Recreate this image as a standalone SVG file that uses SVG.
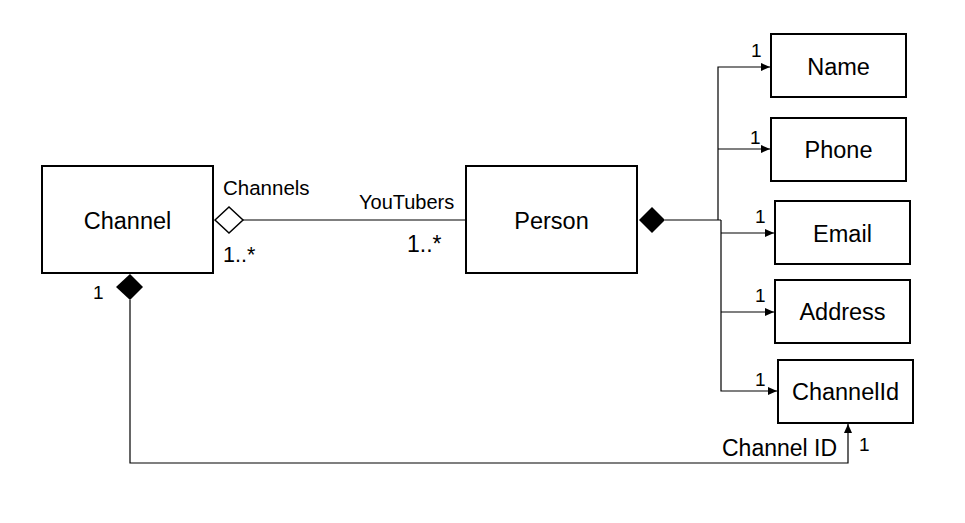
<svg xmlns="http://www.w3.org/2000/svg" width="965" height="523" viewBox="0 0 965 523">
<style>
.box{fill:#fff;stroke:#000;stroke-width:2}
.t{font-family:"Liberation Sans",Arial,sans-serif;fill:#000}
.bt{font-size:23.5px;text-anchor:middle}
.one{font-size:19px}
.ln{fill:none;stroke:#000;stroke-width:1.2}
</style>
<defs>
<marker id="arr" markerWidth="10" markerHeight="8" refX="9" refY="4" orient="auto" markerUnits="userSpaceOnUse">
<path d="M0,0 L9,4 L0,8 Z" fill="#000"/>
</marker>
</defs>
<rect width="965" height="523" fill="#fff"/>
<g id="connectors">
<path class="ln" d="M243,220 H466"/>
<path class="ln" d="M665,220 H721"/>
<path class="ln" d="M718,220 V67 H770" marker-end="url(#arr)"/>
<path class="ln" d="M718,149 H770" marker-end="url(#arr)"/>
<path class="ln" d="M721,220 V391 H777" marker-end="url(#arr)"/>
<path class="ln" d="M721,233 H774" marker-end="url(#arr)"/>
<path class="ln" d="M721,312 H774" marker-end="url(#arr)"/>
<path class="ln" d="M130,300 V463 H848 V424" marker-end="url(#arr)"/>
<path d="M215,220 L229,207 L243,220 L229,233 Z" fill="#fff" stroke="#000" stroke-width="1.5"/>
<path d="M639,220 L652,207 L665,220 L652,233 Z" fill="#000"/>
<path d="M116,287 L130,274 L143,287 L130,300 Z" fill="#000"/>
<text class="t" x="223" y="195" font-size="20.5">Channels</text>
<text class="t" x="359" y="209" font-size="20">YouTubers</text>
<text class="t" x="223" y="262" font-size="21.5">1..*</text>
<text class="t" x="407" y="252" font-size="23">1..*</text>
<text class="t one" x="93" y="299">1</text>
<text class="t one" x="751" y="57">1</text>
<text class="t one" x="750" y="144">1</text>
<text class="t one" x="755" y="223">1</text>
<text class="t one" x="755" y="302">1</text>
<text class="t one" x="755" y="386">1</text>
<text class="t" x="722" y="456" font-size="23">Channel ID</text>
<text class="t one" x="859" y="451">1</text>
</g>
<g id="node-channel"><rect class="box" x="42" y="166" width="171" height="107"/><text class="t bt" x="127.5" y="229">Channel</text></g>
<g id="node-person"><rect class="box" x="466" y="166" width="171" height="107"/><text class="t bt" x="551.5" y="229">Person</text></g>
<g id="node-name"><rect class="box" x="771" y="34" width="135" height="63"/><text class="t bt" x="838.5" y="75">Name</text></g>
<g id="node-phone"><rect class="box" x="771" y="118" width="135" height="63"/><text class="t bt" x="838.5" y="158">Phone</text></g>
<g id="node-email"><rect class="box" x="775" y="201" width="135" height="63"/><text class="t bt" x="842.5" y="242">Email</text></g>
<g id="node-address"><rect class="box" x="775" y="280" width="135" height="63"/><text class="t bt" x="842.5" y="320">Address</text></g>
<g id="node-channelid"><rect class="box" x="778" y="360" width="135" height="63"/><text class="t bt" x="845.5" y="400">ChannelId</text></g>
</svg>
